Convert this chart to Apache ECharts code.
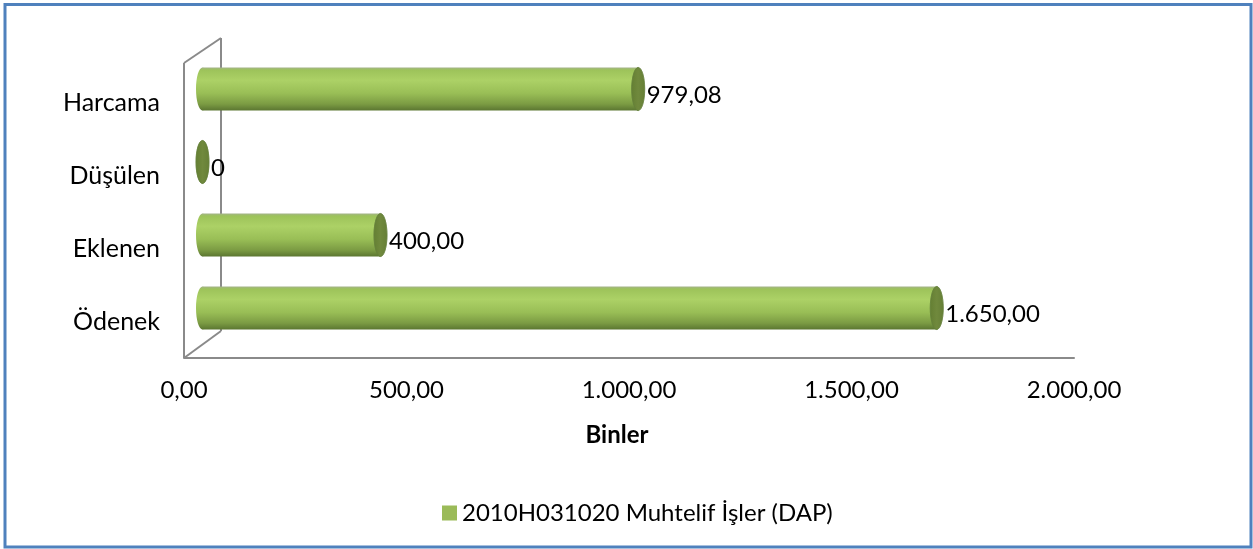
<!DOCTYPE html>
<html>
<head>
<meta charset="utf-8">
<script src="https://cdn.jsdelivr.net/npm/echarts@6/dist/echarts.min.js"></script>
<style>
  html, body { margin: 0; padding: 0; background: #fff; }
  #chart { width: 1253px; height: 549px; }
</style>
</head>
<body>
<div id="chart"></div>
<script>
// Categories listed bottom-to-top, as the category axis runs upward
const categories = ['Ödenek', 'Eklenen', 'Düşülen', 'Harcama'];
const values = [1650, 400, 0, 979.08];
const seriesName = '2010H031020 Muhtelif İşler (DAP)';
const axisMin = 0, axisMax = 2000, axisStep = 500;
const axisTitle = 'Binler';

const FONT = 'Lato';
const GRID = { left: 184, right: 179, top: 66, bottom: 191 };
// Depth offsets for the pseudo-3D look (cylinders sit half-way into the box)
const DEPTH_X = 37, DEPTH_Y = -27;

// Turkish number formatting: "." for thousands, "," for decimals
function trNumber(v) {
  const parts = v.toFixed(2).split('.');
  const intPart = parts[0].replace(/\B(?=(\d{3})+(?!\d))/g, '.');
  return intPart + ',' + parts[1];
}
function valueLabel(v) { return v === 0 ? '0' : trNumber(v); }

const bodyFill = new echarts.graphic.LinearGradient(0, 0, 0, 1, [
  { offset: 0, color: '#a3b388' },
  { offset: 0.06, color: '#9dc35a' },
  { offset: 0.3, color: '#acd166' },
  { offset: 0.6, color: '#99be56' },
  { offset: 0.85, color: '#7b9b43' },
  { offset: 1, color: '#5b7631' }
]);
const capFill = new echarts.graphic.LinearGradient(0, 0, 1, 0, [
  { offset: 0, color: '#647f33' },
  { offset: 0.5, color: '#70893d' },
  { offset: 1, color: '#667f36' }
]);

function renderCylinder(params, api) {
  const idx = api.value(0);
  const v = api.value(1);
  const base = api.coord([0, idx]);
  const end = api.coord([v, idx]);
  const band = api.size([0, 1])[1];
  const dx = DEPTH_X / 2, dy = DEPTH_Y / 2;
  const xl = base[0] + dx;
  const xr = end[0] + dx;
  const cy = base[1] + dy;
  const ry = band * 0.295;
  const rx = 6.5;
  return {
    type: 'group',
    children: [
      { type: 'ellipse', shape: { cx: xl, cy: cy, rx: rx, ry: ry }, style: { fill: bodyFill } },
      { type: 'rect', shape: { x: xl, y: cy - ry, width: Math.max(xr - xl, 0), height: ry * 2 }, style: { fill: bodyFill } },
      { type: 'ellipse', shape: { cx: xr, cy: cy, rx: rx, ry: ry }, style: { fill: capFill, stroke: '#65803a', lineWidth: 0.6 } },
      { type: 'text', style: { text: valueLabel(v), x: xr + rx + 2, y: cy + 6, align: 'left', verticalAlign: 'middle', fill: '#000', fontSize: 24, fontFamily: FONT } }
    ]
  };
}

const chart = echarts.init(document.getElementById('chart'), null, { renderer: 'canvas' });

chart.setOption({
  animation: false,
  backgroundColor: '#ffffff',
  grid: GRID,
  legend: {
    data: [{ name: seriesName, icon: 'rect' }],
    left: 437,
    top: 496,
    itemWidth: 15,
    itemHeight: 15,
    itemGap: 8,
    textStyle: { fontSize: 24, fontFamily: FONT, color: '#000' },
    selectedMode: false
  },
  xAxis: {
    type: 'value',
    min: axisMin,
    max: axisMax,
    interval: axisStep,
    name: axisTitle,
    nameLocation: 'middle',
    nameGap: 65,
    nameTextStyle: { fontSize: 24, fontWeight: 'bold', fontFamily: FONT, color: '#000', padding: [0, 24, 0, 0] },
    axisLine: { show: true, lineStyle: { color: '#8a8a8a', width: 2 } },
    axisTick: { show: false },
    splitLine: { show: false },
    axisLabel: { formatter: trNumber, margin: 20, fontSize: 24, fontFamily: FONT, color: '#000' }
  },
  yAxis: {
    type: 'category',
    data: categories,
    axisLine: { show: false },
    axisTick: { show: false },
    axisLabel: { margin: 24, fontSize: 25, fontFamily: FONT, color: '#000' }
  },
  series: [{
    type: 'custom',
    name: seriesName,
    itemStyle: { color: '#9bbb59' },
    renderItem: renderCylinder,
    encode: { x: 1, y: 0 },
    data: values.map((v, i) => [i, v]),
    z: 5
  }]
});

// Box walls drawn from the axis positions
const x0 = chart.convertToPixel({ xAxisIndex: 0 }, axisMin);
const yFloor = 549 - GRID.bottom;
const yTop = GRID.top - 3;
const wall = { stroke: '#8a8a8a', lineWidth: 2 };
chart.setOption({
  graphic: [
    { type: 'line', z: 0, shape: { x1: x0, y1: yTop, x2: x0, y2: yFloor }, style: wall },
    { type: 'line', z: 0, shape: { x1: x0 + DEPTH_X, y1: yTop + DEPTH_Y + 2, x2: x0 + DEPTH_X, y2: yFloor + DEPTH_Y }, style: wall },
    { type: 'line', z: 0, shape: { x1: x0, y1: yTop, x2: x0 + DEPTH_X, y2: yTop + DEPTH_Y + 2 }, style: wall },
    { type: 'line', z: 0, shape: { x1: x0, y1: yFloor, x2: x0 + DEPTH_X, y2: yFloor + DEPTH_Y }, style: wall },
    { type: 'rect', z: 10, shape: { x: 5, y: 4.5, width: 1246, height: 542.5 }, style: { fill: 'none', stroke: '#4f81bd', lineWidth: 3 } }
  ]
});
</script>
</body>
</html>
